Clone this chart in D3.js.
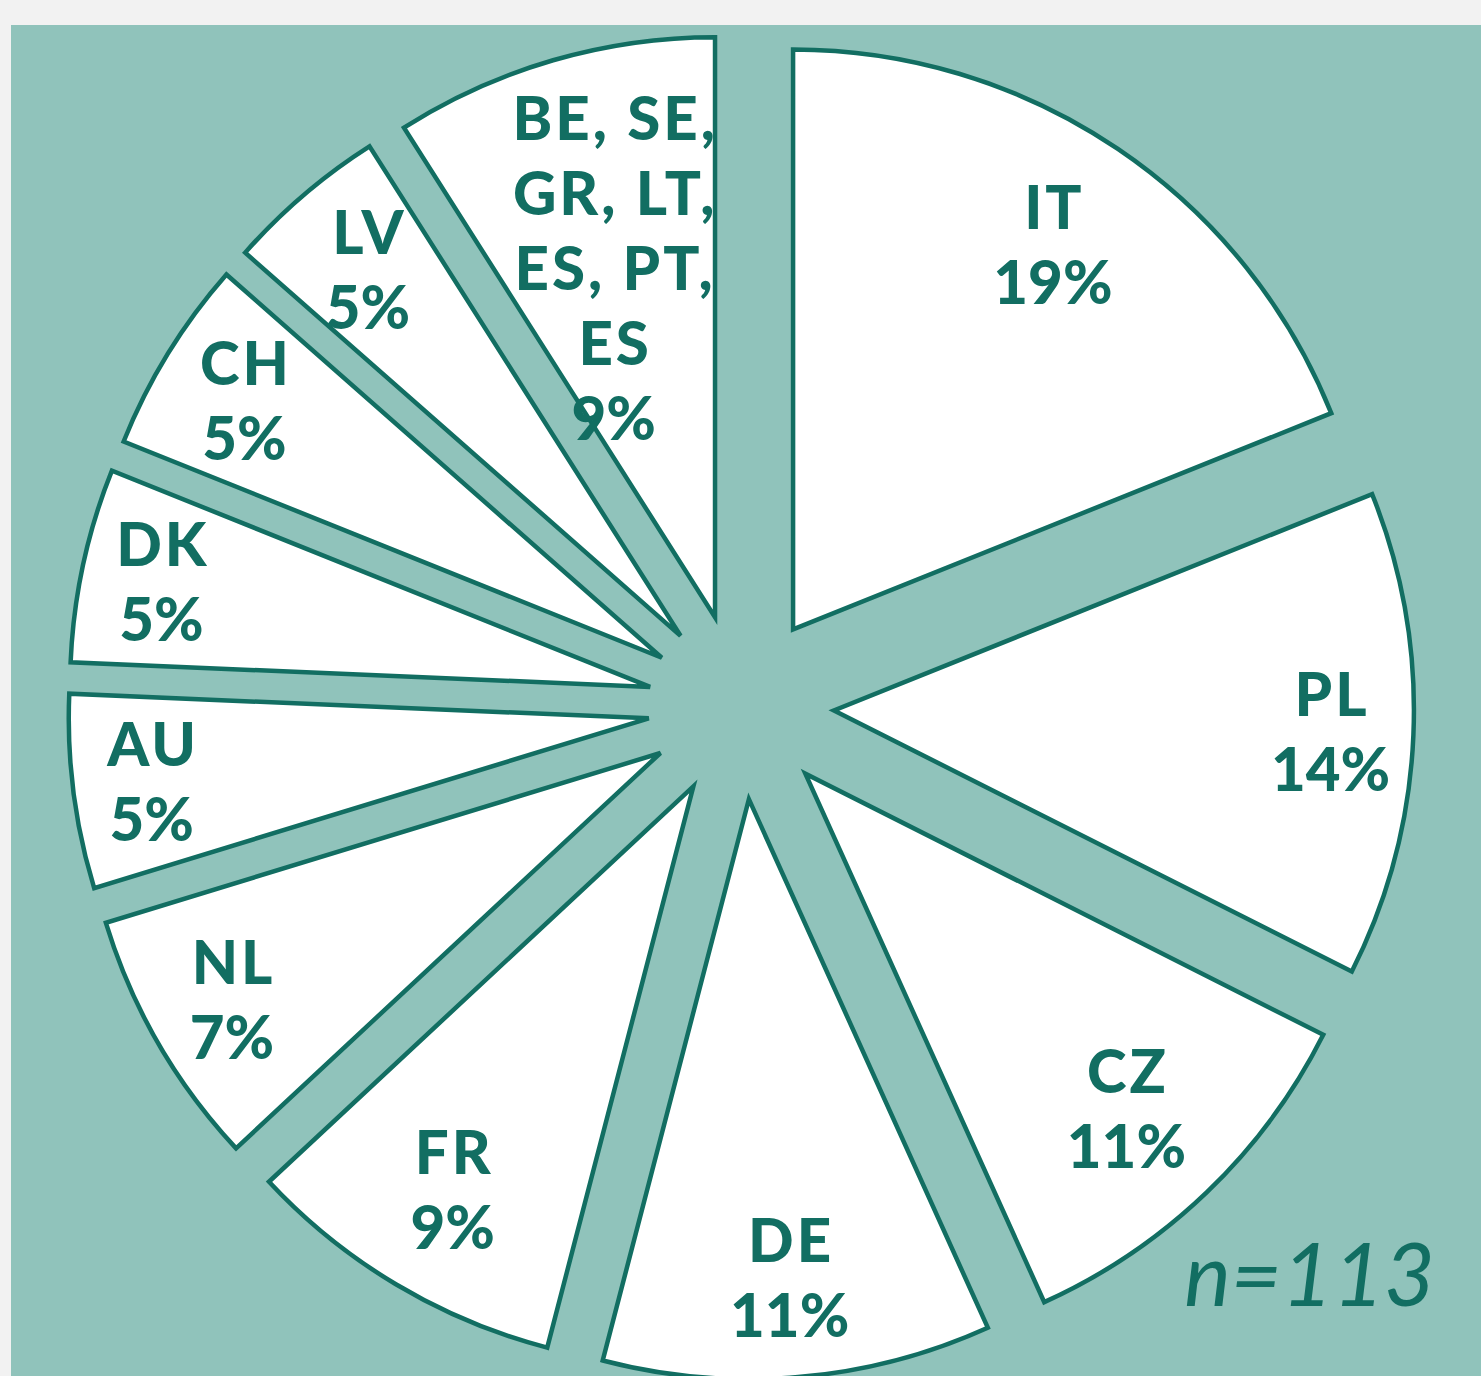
<!DOCTYPE html>
<html>
<head>
<meta charset="utf-8">
<script src="https://cdn.jsdelivr.net/npm/d3@7"></script>
<style>
	html, body { margin: 0; padding: 0; background: #f2f2f2; }
</style>
</head>
<body>
<div id="playground"></div>
<script>
// Data: respondents per country, labels show the rounded share of the answers
var countries = ['IT', 'PL', 'CZ', 'DE', 'FR', 'NL', 'AU', 'DK', 'CH', 'LV', 'BE, SE,\nGR, LT,\nES, PT,\nES']
var counts = [21, 15, 12, 12, 10, 8, 6, 6, 6, 5, 10]
var sampleSize = 113

var settings = {}

// General
settings.width = 1481
settings.height = 1376
settings.panel_x = 11
settings.panel_y = 25
settings.panel_color = '#90c3bb'

// Pie
settings.cx = 741
settings.cy = 706.5
settings.radius = 580
settings.explode = 93
settings.slice_fill = '#ffffff'
settings.slice_stroke = '#126e62'
settings.slice_stroke_width = 4.5

// Labels (distance from slice tip, as a share of the radius)
settings.label_radius = [0.80, 0.857, 0.80, 0.829, 0.81, 0.853, 0.864, 0.862, 0.845, 0.829, 0.626]
settings.label_font_size = 60
settings.label_font_weight = 900
settings.label_line_height = 75
settings.label_cap_height = 43
settings.label_letter_spacing = 3
settings.label_font_family = 'Lato, "Open Sans", sans-serif'
settings.label_color = '#126e62'

// --- (end of settings)

var svg = d3.select('#playground').append('svg')
	.attr('width', settings.width)
	.attr('height', settings.height)
	.style('display', 'block')

svg.append('rect')
	.attr('x', settings.panel_x)
	.attr('y', settings.panel_y)
	.attr('width', settings.width - settings.panel_x)
	.attr('height', settings.height - settings.panel_y)
	.attr('fill', settings.panel_color)

var rows = countries.map(function(c, i){
	return {name: c, count: counts[i], index: i}
})
var answered = d3.sum(counts)

var pie = d3.pie()
	.sort(null)
	.value(function(d){ return d.count })

var arc = d3.arc()
	.innerRadius(0)
	.outerRadius(settings.radius)

var arcs = pie(rows)

// Slice tip = pie centre pushed out along the bisector
arcs.forEach(function(a){
	var mid = (a.startAngle + a.endAngle) / 2
	a.mid = mid
	a.tx = settings.cx + settings.explode * Math.sin(mid)
	a.ty = settings.cy - settings.explode * Math.cos(mid)
})

// Draw slices
svg.append('g')
	.selectAll('path')
	.data(arcs)
	.join('path')
	.attr('transform', function(a){ return 'translate(' + a.tx + ',' + a.ty + ')' })
	.attr('d', arc)
	.attr('fill', settings.slice_fill)
	.attr('stroke', settings.slice_stroke)
	.attr('stroke-width', settings.slice_stroke_width)

// Draw labels
var labels = svg.append('g')
	.attr('font-family', settings.label_font_family)
	.attr('font-weight', settings.label_font_weight)
	.attr('font-size', settings.label_font_size)
	.attr('fill', settings.label_color)
	.attr('text-anchor', 'middle')

arcs.forEach(function(a){
	var d = settings.label_radius[a.data.index] * settings.radius
	var lx = a.tx + d * Math.sin(a.mid)
	var ly = a.ty - d * Math.cos(a.mid)

	var lines = a.data.name.split('\n')
	lines.push(Math.round(100 * a.data.count / answered) + '%')

	var blockHeight = (lines.length - 1) * settings.label_line_height + settings.label_cap_height
	var firstBaseline = ly - blockHeight / 2 + settings.label_cap_height

	var text = labels.append('text')
	lines.forEach(function(line, i){
		var isName = i < lines.length - 1
		var ls = isName ? settings.label_letter_spacing : 0
		text.append('tspan')
			.attr('x', lx + ls / 2)
			.attr('y', firstBaseline + i * settings.label_line_height)
			.attr('letter-spacing', ls)
			.text(line)
	})
})

// Sample size
svg.append('text')
	.attr('x', 1435)
	.attr('y', 1306)
	.attr('text-anchor', 'end')
	.attr('font-family', settings.label_font_family)
	.attr('font-style', 'italic')
	.attr('font-size', 88)
	.attr('fill', settings.label_color)
	.text('n=' + sampleSize)
</script>
</body>
</html>
